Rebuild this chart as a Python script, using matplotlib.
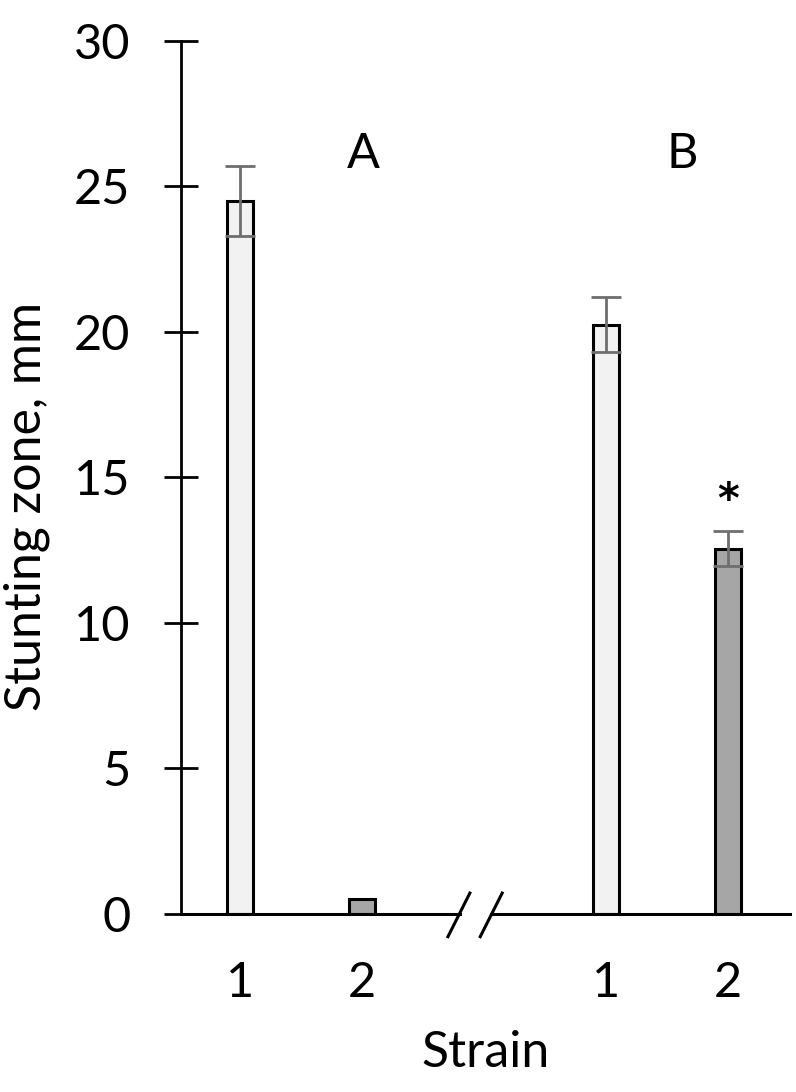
import matplotlib
matplotlib.use("Agg")
from matplotlib import pyplot as plt
import numpy as np

plt.rcParams['font.family'] = ['Lato', 'DejaVu Sans']

# data
groups = ["A", "B"]
strains = ["1", "2", "1", "2"]
positions = [1, 2, 4, 5]
values = [24.5, 0.5, 20.25, 12.55]
errors = [1.2, 0.0, 0.95, 0.6]
colors = ["#f2f2f2", "#a6a6a6", "#f2f2f2", "#a6a6a6"]
significant = [False, False, False, True]

fs = 35

fig = plt.figure(figsize=(7.96, 10.92), dpi=100)
ax = fig.add_axes([0.2274, 0.163, 0.765, 0.7995])

ax.bar(positions, values, width=0.21, color=colors, edgecolor="black",
       linewidth=2.2, zorder=2)
ax.errorbar([p for p, e in zip(positions, errors) if e > 0],
            [v for v, e in zip(values, errors) if e > 0],
            yerr=[e for e in errors if e > 0], fmt="none", ecolor="#6e6e6e",
            elinewidth=2.0, capsize=11, capthick=2.0, zorder=3)

for p, v, e, s in zip(positions, values, errors, significant):
    if s:
        ax.text(p, v + e + 1.05, "*", ha="center", va="center",
                fontsize=30, fontweight="bold", family="DejaVu Sans")

ax.text(2.01, 26.1, groups[0], ha="center", va="center", fontsize=fs)
ax.text(4.63, 26.1, groups[1], ha="center", va="center", fontsize=fs)

ax.set_xlim(0.516, 5.51)
ax.set_ylim(0, 30)
ax.set_yticks(np.arange(0, 31, 5))
ax.set_xticks(positions)
ax.set_xticklabels(strains)
ax.tick_params(axis="y", direction="inout", length=25, width=2, pad=24,
               labelsize=fs)
ax.tick_params(axis="x", length=0, pad=34, labelsize=fs)

for side in ["top", "right", "bottom"]:
    ax.spines[side].set_visible(False)
ax.spines["left"].set_linewidth(2)

# broken x axis
brk = 2.93
ax.plot([0.516, brk - 0.13], [0, 0], color="black", lw=2.2, clip_on=False)
ax.plot([brk + 0.13, 5.51], [0, 0], color="black", lw=2.2, clip_on=False)
for dx in (-0.135, 0.13):
    ax.plot([brk + dx - 0.09, brk + dx + 0.09], [-0.78, 0.72],
            color="black", lw=2.2, clip_on=False)

ax.set_ylabel("Stunting zone, mm", fontsize=36)
ax.yaxis.set_label_coords(-0.215, 0.467)
ax.set_xlabel("Strain", fontsize=36, labelpad=18)

fig.savefig("out.png", dpi=100)
